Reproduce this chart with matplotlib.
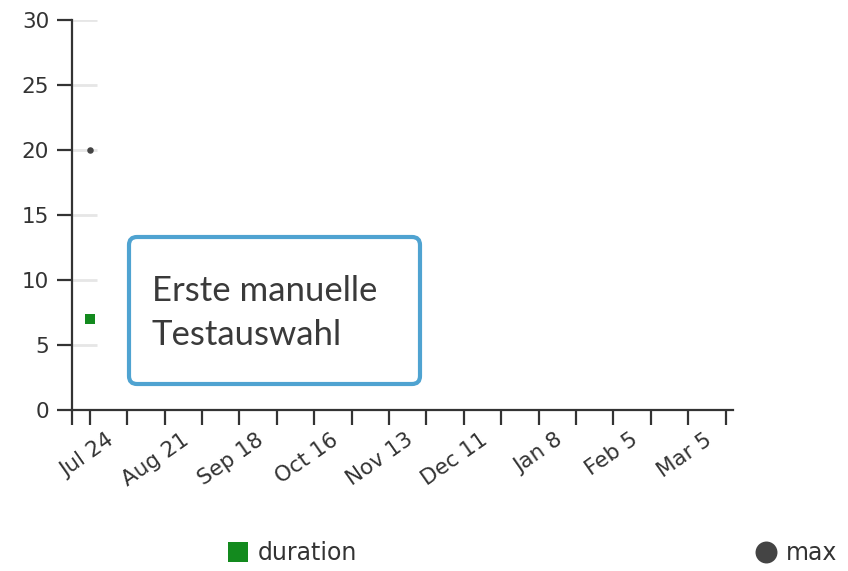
"""
Timeline scatter: test duration and max value per run, with a callout box.
"""

from datetime import datetime, timedelta

import matplotlib
matplotlib.use("Agg")
import matplotlib.pyplot as plt
import matplotlib.dates as mdates
from matplotlib.lines import Line2D
from matplotlib.patches import FancyBboxPatch
from matplotlib.transforms import IdentityTransform, ScaledTranslation

# ── Data ──────────────────────────────────────────────────────────────────────
RUN_DATES = [datetime(2022, 7, 24)]
DURATION  = [7]
MAX_VALUE = [20]

Y_TICKS    = [0, 5, 10, 15, 20, 25, 30]
NOTE_LINES = ["Erste manuelle", "Testauswahl"]

X_START = datetime(2022, 7, 24) - timedelta(days=6.7)
X_END   = datetime(2022, 7, 24) + timedelta(days=240.8)

GREEN = "#138a1e"
GREY  = "#444444"
AXIS  = "#333333"
BLUE  = "#4fa3d1"

W, H, DPI = 848, 571, 100


def main() -> None:
    fig = plt.figure(figsize=(W / DPI, H / DPI), dpi=DPI)
    ax = fig.add_axes([72 / W, 1 - 410 / H, (733 - 72) / W, (410 - 20) / H])

    ax.scatter(RUN_DATES, MAX_VALUE, marker="o", s=22, color=GREY, zorder=3,
               linewidths=0)
    ax.scatter(RUN_DATES, DURATION, marker="s", s=50, color=GREEN, zorder=3,
               linewidths=0)

    ax.set_xlim(X_START, X_END)
    ax.set_ylim(0, 30)

    # short grid stubs next to the y axis
    ax.hlines(Y_TICKS[1:], 0, 25 / (733 - 72), transform=ax.get_yaxis_transform(),
              color="#e6e6e6", lw=2, zorder=1)

    for side in ("top", "right"):
        ax.spines[side].set_visible(False)
    for side in ("left", "bottom"):
        ax.spines[side].set_color(AXIS)
        ax.spines[side].set_linewidth(1.6)

    ax.set_yticks(Y_TICKS)
    ax.tick_params(axis="y", length=11, width=1.6, color=AXIS, pad=5.5,
                   labelsize=15.5, labelcolor="#333333")

    first = mdates.date2num(RUN_DATES[0])
    major = [first + 28 * i for i in range(9)]
    minor = [first + 14 + 28 * i for i in range(9)] + [mdates.date2num(X_START)]
    ax.set_xticks(major)
    ax.set_xticks(minor, minor=True)
    ax.xaxis.set_major_formatter(mdates.DateFormatter("%b %-d"))
    ax.tick_params(axis="x", which="both", length=11, width=1.6, color=AXIS)
    ax.tick_params(axis="x", which="major", pad=9, labelsize=15.5,
                   labelcolor="#333333")
    shift = ScaledTranslation(22 / DPI, 0, fig.dpi_scale_trans)
    for lab in ax.get_xticklabels():
        lab.set_rotation(35)
        lab.set_ha("right")
        lab.set_va("center")
        lab.set_rotation_mode("anchor")
        lab.set_transform(lab.get_transform() + shift)

    # callout box (pixel coordinates)
    box = FancyBboxPatch((129, H - 384), 291, 147,
                         boxstyle="round,pad=0,rounding_size=8",
                         transform=IdentityTransform(), facecolor="white",
                         edgecolor=BLUE, lw=3, zorder=5)
    fig.add_artist(box)
    for i, line in enumerate(NOTE_LINES):
        fig.text(152 / W, 1 - (301 + 44 * i) / H, line, fontsize=25,
                 family="Lato", color="#3a3a3a", ha="left", va="baseline",
                 zorder=6)

    # legend
    h_dur = Line2D([], [], ls="none", marker="s", ms=14.4, color=GREEN, mew=0)
    h_max = Line2D([], [], ls="none", marker="o", ms=15.8, color=GREY, mew=0)
    common = dict(loc="center left", frameon=False, fontsize=17,
                  handlelength=1.0, handletextpad=0.35, borderpad=0,
                  borderaxespad=0, labelcolor="#333333")
    fig.legend([h_dur], ["duration"], bbox_to_anchor=(226 / W, 1 - 553 / H),
               **common)
    fig.legend([h_max], ["max"], bbox_to_anchor=(754 / W, 1 - 553 / H),
               **common)

    fig.savefig("out.png", dpi=DPI)
    plt.close(fig)


if __name__ == "__main__":
    main()
